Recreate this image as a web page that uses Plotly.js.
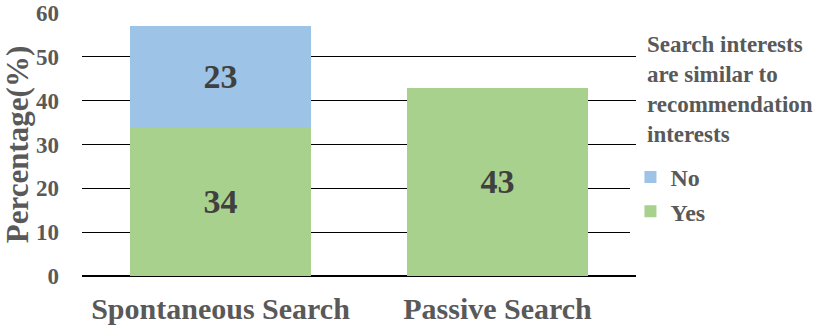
<!DOCTYPE html>
<html>
<head>
<meta charset="utf-8">
<script src="https://cdn.plot.ly/plotly-3.0.1.min.js"></script>
<style>html,body{margin:0;padding:0;background:#fff;}#chart{width:830px;height:332px;}</style>
</head>
<body>
<div id="chart"></div>
<script>
const categories = ["Spontaneous Search", "Passive Search"];
const yesValues = [34, 43];
const noValues = [23, null];
const seriesNames = ["Yes", "No"];
const yTicks = [0, 10, 20, 30, 40, 50, 60];
const legendTitle = "Search interests<br>are similar to<br>recommendation<br>interests";

const FONT = "Liberation Serif";
const labelFont = {family: FONT, size: 34, color: "#404040"};
const b = s => "<b>" + s + "</b>";

const traces = [
  {
    type: "bar", name: b(seriesNames[0]), x: categories, y: yesValues,
    legendgroup: "g1", legendrank: 2,
    marker: {color: "#A9D18E", line: {width: 0}},
    text: yesValues.map(v => v == null ? "" : b(v)),
    textposition: "inside", insidetextanchor: "middle", textangle: 0,
    textfont: labelFont, hoverinfo: "none"
  },
  {
    type: "bar", name: b(seriesNames[1]), x: categories, y: noValues,
    legendgroup: "g2", legendrank: 1,
    marker: {color: "#9DC3E6", line: {width: 0}},
    text: noValues.map(v => v == null ? "" : b(v)),
    textposition: "inside", insidetextanchor: "middle", textangle: 0,
    textfont: labelFont, hoverinfo: "none"
  }
];

const layout = {
  width: 830, height: 332,
  margin: {l: 82, r: 194, t: 13, b: 56},
  paper_bgcolor: "#fff", plot_bgcolor: "#fff",
  barmode: "stack", bargap: 0.35,
  font: {family: FONT, color: "#595959"},
  xaxis: {
    showgrid: false, showline: false, zeroline: false, ticks: "",
    tickvals: categories, ticktext: categories.map(b),
    tickfont: {family: FONT, size: 30, color: "#595959"},
    ticklabelstandoff: 12
  },
  yaxis: {
    range: [0, 60], tickvals: yTicks, ticktext: yTicks.map(b),
    showgrid: true, gridcolor: "#000", gridwidth: 1,
    zeroline: true, zerolinecolor: "#000", zerolinewidth: 2,
    showline: false, ticks: "", ticklabelstandoff: 22,
    tickfont: {family: FONT, size: 23, color: "#595959"},
    title: {text: b("Percentage(%)"), font: {family: FONT, size: 31, color: "#595959"}, standoff: 2}
  },
  annotations: [{
    xref: "paper", yref: "paper", x: 1.016, y: 0.935, xanchor: "left", yanchor: "top",
    align: "left", showarrow: false, text: b(legendTitle),
    font: {family: FONT, size: 23, color: "#595959"}
  }],
  legend: {
    x: 0.99, y: 0.46, xanchor: "left", yanchor: "top",
    font: {family: FONT, size: 24, color: "#595959"},
    traceorder: "grouped", tracegroupgap: 0, itemwidth: 30
  },
  showlegend: true
};

Plotly.newPlot("chart", traces, layout, {displayModeBar: false, staticPlot: true});
</script>
</body>
</html>
